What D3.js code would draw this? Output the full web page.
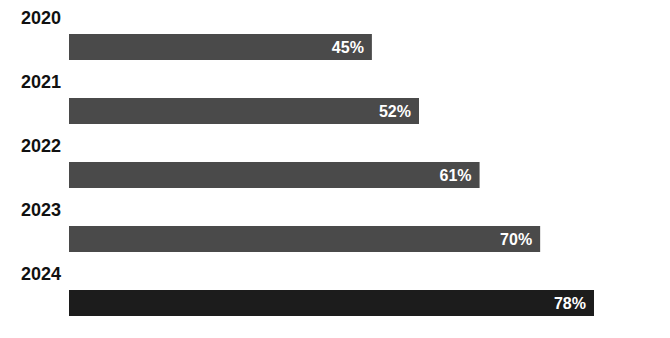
<!DOCTYPE html>
<html>
<head>
<meta charset="utf-8">
<script src="https://cdn.jsdelivr.net/npm/d3@7"></script>
<style>
  body { margin: 0; background: #fff; }
  svg { display: block; }
</style>
</head>
<body>
<svg id="svgRoot" width="670" height="338"></svg>
<script>
// values
const years = ["2020", "2021", "2022", "2023", "2024"]
const shares = [45, 52, 61, 70, 78]
const barColors = ["#4a4a4a", "#4a4a4a", "#4a4a4a", "#4a4a4a", "#1c1c1c"]

let data = years.map((y, i) => ({ year: y, value: shares[i], color: barColors[i] }))

let svg = d3.select("#svgRoot")

let scale_x = d3.scaleLinear()
  .domain([0, d3.max(shares)])
  .range([69, 594])

let scale_y = d3.scaleBand()
  .domain(years)
  .range([34, 316])
  .paddingInner(0.59375)
  .paddingOuter(0)

let g_bars = svg.append("g").attr("class", "g_bars")
let g_labels = svg.append("g").attr("class", "g_labels")

g_bars.selectAll(".bar")
  .data(data)
  .enter()
  .append("rect")
  .attr("class", "bar")
  .attr("x", scale_x(0))
  .attr("y", d => scale_y(d.year))
  .attr("width", d => scale_x(d.value) - scale_x(0))
  .attr("height", scale_y.bandwidth())
  .attr("fill", d => d.color)

// year above each bar
g_labels.selectAll(".yearLabel")
  .data(data)
  .enter()
  .append("text")
  .attr("class", "yearLabel")
  .attr("x", 21)
  .attr("y", d => scale_y(d.year) - 10)
  .text(d => d.year)
  .attr("font-family", "Liberation Sans, Arial, sans-serif")
  .attr("font-weight", "bold")
  .attr("font-size", "18px")
  .attr("fill", "#111")

// value inside the end of the bar
g_labels.selectAll(".valueLabel")
  .data(data)
  .enter()
  .append("text")
  .attr("class", "valueLabel")
  .attr("x", d => scale_x(d.value) - 8)
  .attr("y", d => scale_y(d.year) + scale_y.bandwidth() / 2 + 6)
  .attr("text-anchor", "end")
  .text(d => d.value + "%")
  .attr("font-family", "Liberation Sans, Arial, sans-serif")
  .attr("font-weight", "bold")
  .attr("font-size", "16px")
  .attr("fill", "#fff")
</script>
</body>
</html>
